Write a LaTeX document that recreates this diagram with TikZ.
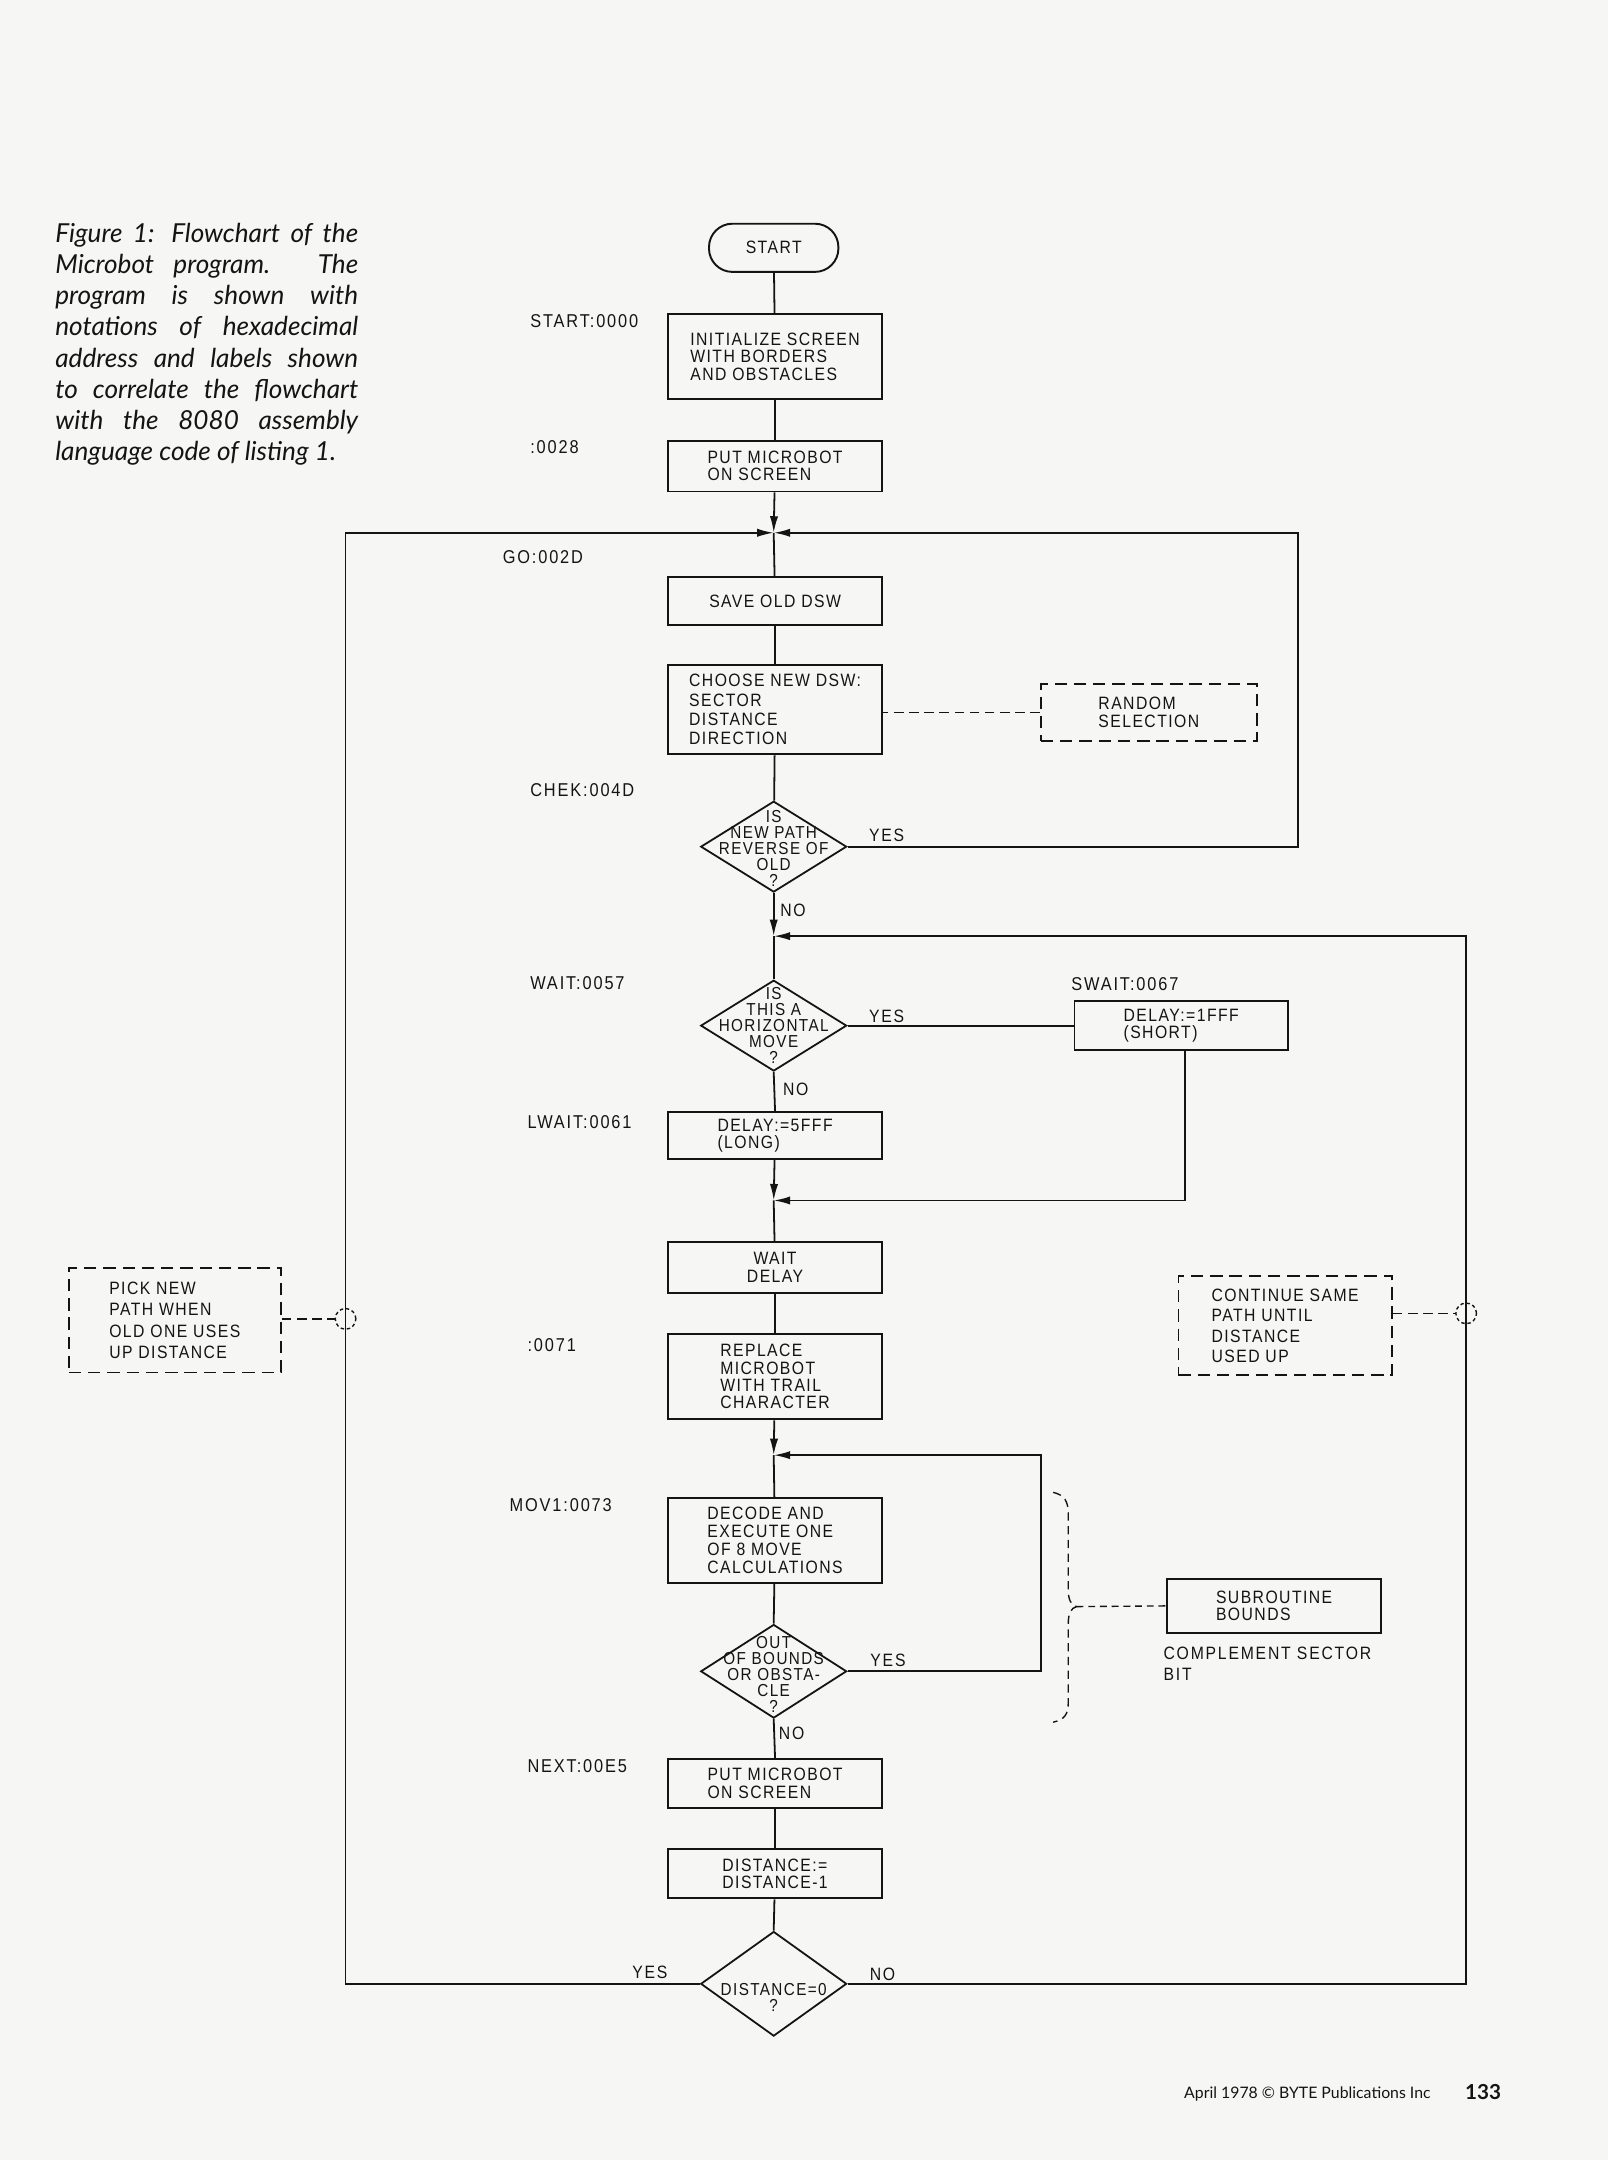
\documentclass[tikz,border=0pt]{standalone}
\usepackage{fontspec}
\setmainfont{Liberation Sans}
\newfontfamily\lbl{Liberation Sans}[LetterSpace=8,FakeStretch=0.88]
\newfontfamily\lbw{Liberation Sans}[LetterSpace=10,FakeStretch=0.88]
\newfontfamily\capfont{Lato}
\usetikzlibrary{arrows.meta,shapes.geometric}
\definecolor{paper}{RGB}{246,246,244}
\definecolor{ink}{RGB}{20,20,20}
\begin{document}
\begin{tikzpicture}[x=1pt,y=-1pt,
  every node/.style={font=\lbl\fontsize{13}{12.6}\selectfont, text=ink},
  proc/.style={draw=ink, line width=1.4pt, minimum width=155pt, align=left, inner sep=0pt},
  note/.style={draw=ink, line width=1.3pt, dash pattern=on 9pt off 5pt, minimum width=155pt, align=left, inner sep=0pt},
  dec/.style={draw=ink, line width=1.3pt, diamond, minimum width=106pt, minimum height=66pt, inner sep=0pt},
  dtext/.style={align=center, inner sep=0pt, font=\lbl\fontsize{12.6}{11.6}\selectfont},
  flow/.style={draw=ink, line width=1.3pt},
  arr/.style={flow, -{Latex[length=12pt,width=6pt]}},
  dflow/.style={draw=ink, line width=1.2pt, dash pattern=on 7pt off 4pt},
  ring/.style={draw=ink, line width=1pt, dash pattern=on 2.5pt off 2pt, circle, minimum size=15pt, inner sep=0pt},
  addr/.style={anchor=west, inner sep=0pt, font=\lbw\fontsize{13.5}{13}\selectfont},
  yn/.style={inner sep=0pt, font=\lbw\fontsize{13}{13}\selectfont}
]
\path[fill=paper] (0,0) rectangle (1168,1569);
\useasboundingbox (0,0) rectangle (1168,1569);

% caption
\node[anchor=north west, inner sep=0pt, align=left,
  font=\capfont\itshape\fontsize{19}{22.6}\selectfont] (cap) at (40,162)
  {\makebox[220pt][s]{Figure 1: Flowchart of the}\\
   \makebox[220pt][s]{Microbot program. The}\\
   \makebox[220pt][s]{program is shown with}\\
   \makebox[220pt][s]{notations of hexadecimal}\\
   \makebox[220pt][s]{address and labels shown}\\
   \makebox[220pt][s]{to correlate the flowchart}\\
   \makebox[220pt][s]{with the 8080 assembly}\\
   language code of listing 1.};

% main column
\node[draw=ink, line width=1.4pt, rounded corners=17pt, minimum width=94pt, minimum height=35pt, inner sep=0pt] (start) at (562,180) {START};
\node[proc, minimum height=62pt] (init) at (563,259) {INITIALIZE SCREEN\\WITH BORDERS\\AND OBSTACLES};
\node[proc, minimum height=37pt] (put1) at (563,338.5) {PUT MICROBOT\\ON SCREEN};
\coordinate (j1) at (562,387);
\node[proc, minimum height=35pt, align=center] (save) at (563,436.5) {SAVE OLD DSW};
\node[proc, minimum height=65pt, font=\lbl\fontsize{13}{14}\selectfont] (choose) at (563,515.5) {CHOOSE NEW DSW:\\SECTOR\\DISTANCE\\DIRECTION};
\node[note, minimum width=157pt, minimum height=41pt] (random) at (834.5,517.5) {RANDOM\\SELECTION};
\node[dec] (d1) at (562,615) {};
\node[dtext] (d1t) at (562,616) {IS\\NEW PATH\\REVERSE OF\\OLD\\?};
\coordinate (j2) at (562,680);
\node[dec] (d2) at (562,745) {};
\node[dtext] (d2t) at (562,745) {IS\\THIS A\\HORIZONTAL\\MOVE\\?};
\node[proc, minimum height=36pt] (swait) at (858,745) {DELAY:=1FFF\\(SHORT)};
\node[proc, minimum height=34pt] (lwait) at (563,825) {DELAY:=5FFF\\(LONG)};
\coordinate (j3) at (562,872);
\node[proc, minimum height=37pt, align=center] (waitd) at (563,920.5) {WAIT\\DELAY};
\node[proc, minimum height=62pt] (repl) at (563,1000) {REPLACE\\MICROBOT\\WITH TRAIL\\CHARACTER};
\coordinate (j4) at (562,1057);
\node[proc, minimum height=62pt, font=\lbl\fontsize{13}{13}\selectfont] (decode) at (563,1119) {DECODE AND\\EXECUTE ONE\\OF 8 MOVE\\CALCULATIONS};
\node[dec, minimum height=68pt] (d3) at (562,1214) {};
\node[dtext] (d3t) at (562,1216) {OUT\\OF BOUNDS\\OR OBSTA-\\CLE\\?};
\node[proc, minimum height=35pt] (next) at (563,1295.5) {PUT MICROBOT\\ON SCREEN};
\node[proc, minimum height=36pt] (dist) at (563,1361) {DISTANCE:=\\DISTANCE-1};
\node[dec, minimum height=76pt] (d4) at (562,1441) {};
\node[dtext] (d4t) at (562,1451) {DISTANCE=0\\?};

% side notes
\node[note, minimum width=154pt, minimum height=76pt, font=\lbl\fontsize{13}{15.5}\selectfont] (pick) at (127,959) {PICK NEW\\PATH WHEN\\OLD ONE USES\\UP DISTANCE};
\node[ring] (c1) at (251,958) {};
\node[note, minimum width=155pt, minimum height=72pt, font=\lbl\fontsize{13}{14.7}\selectfont] (cont) at (933.5,963) {CONTINUE SAME\\PATH UNTIL\\DISTANCE\\USED UP};
\node[ring] (c2) at (1065,954) {};
\node[proc, minimum height=39pt] (sub) at (925.5,1166.5) {SUBROUTINE\\BOUNDS};
\node[anchor=north west, inner sep=0pt, align=left, font=\lbw\fontsize{13}{15.5}\selectfont] (comp) at (845,1196) {COMPLEMENT SECTOR\\BIT};

% address labels
\node[addr] (a1) at (385,233) {START:0000};
\node[addr] (a2) at (385,325) {:0028};
\node[addr] (a3) at (365,405) {GO:002D};
\node[addr] (a4) at (385,574) {CHEK:004D};
\node[addr] (a5) at (385,714) {WAIT:0057};
\node[addr] (a6) at (383,815) {LWAIT:0061};
\node[addr] (a7) at (778,715) {SWAIT:0067};
\node[addr] (a8) at (383,977) {:0071};
\node[addr] (a9) at (370,1093) {MOV1:0073};
\node[addr] (a10) at (383,1283) {NEXT:00E5};

% yes/no
\node[yn] (y1) at (644,607) {YES};
\node[yn] (n1) at (576,661) {NO};
\node[yn] (y2) at (644,738) {YES};
\node[yn] (n2) at (578,791) {NO};
\node[yn] (y3) at (645,1206) {YES};
\node[yn] (n3) at (575,1259) {NO};
\node[yn] (y4) at (472,1433) {YES};
\node[yn] (n4) at (641,1434) {NO};

% connectors
\draw[flow] (start) -- (init);
\draw[flow] (init) -- (put1);
\draw[arr] (put1) -- (j1);
\draw[flow] (j1) -- (save);
\draw[flow] (save) -- (choose);
\draw[flow] (choose) -- (d1);
\draw[arr] (d1.south) -- (j2);
\draw[flow] (j2) -- (d2.north);
\draw[flow] (d2.east) -- (swait.west);
\draw[flow] (d2.south) -- (lwait.north);
\draw[arr] (lwait) -- (j3);
\draw[arr] ([xshift=3pt]swait.south) |- (j3);
\draw[flow] (j3) -- (waitd);
\draw[flow] (waitd) -- (repl);
\draw[arr] (repl) -- (j4);
\draw[flow] (j4) -- (decode);
\draw[flow] (decode) -- (d3.north);
\draw[flow] (d3.south) -- (next.north);
\draw[flow] (next) -- (dist);
\draw[flow] (dist) -- (d4.north);
% loops
\draw[arr] (d1.east) -- (943,615) |- (j1);
\draw[arr] (d3.east) -- (756,1214) |- (j4);
\draw[arr] (d4.west) -- (251,1441) |- (j1);
\draw[arr] (d4.east) -- (1065,1441) |- (j2);
% dashed links
\draw[dflow] (random.west) -- (random.west -| choose.east);
\draw[dflow] (c1.west -| pick.east) -- (c1.west);
\draw[dflow] (c2.east -| cont.east) -- (c2.west);
\draw[dflow, line width=1pt, dash pattern=on 6pt off 4pt] (765,1084) .. controls (773,1086) and (776,1090) .. (776,1100) -- (776,1155) .. controls (776,1162) and (778,1166) .. (782,1167) .. controls (778,1168) and (776,1172) .. (776,1179) -- (776,1236) .. controls (776,1246) and (773,1249) .. (765,1251);
\coordinate (bt) at (782,1167);
\draw[dflow, line width=1pt, dash pattern=on 5pt off 3.5pt] (bt) -- (sub.west);

% footer
\node[anchor=base west, inner sep=0pt, font=\capfont\fontsize{11.5}{13}\selectfont] (foot) at (860,1524) {April 1978 © BYTE Publications Inc};
\node[anchor=base west, inner sep=0pt, font=\capfont\bfseries\fontsize{15}{16}\selectfont] (pg) at (1064,1525) {133};
\end{tikzpicture}
\end{document}
